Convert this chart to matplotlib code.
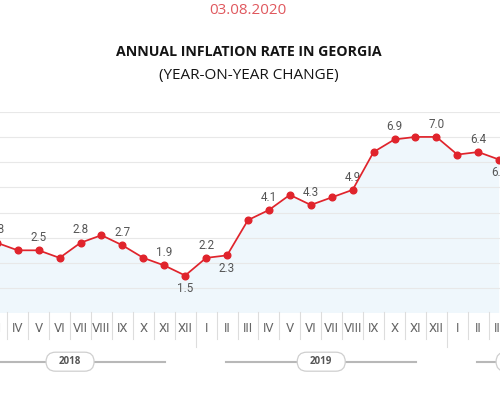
import matplotlib
matplotlib.use("Agg")
import matplotlib.pyplot as plt
from matplotlib.patches import FancyBboxPatch
from matplotlib.transforms import blended_transform_factory, IdentityTransform

# --- data (III 2018 ... III 2020, visible part of the chart) ---
month_labels = ["III", "IV", "V", "VI", "VII", "VIII", "IX", "X", "XI", "XII",
                "I", "II", "III", "IV", "V", "VI", "VII", "VIII", "IX", "X", "XI", "XII",
                "I", "II", "III"]
inflation = [2.8, 2.5, 2.5, 2.2, 2.8, 3.1, 2.7, 2.2, 1.9, 1.5,
             2.2, 2.3, 3.7, 4.1, 4.7, 4.3, 4.6, 4.9, 6.4, 6.9, 7.0, 7.0,
             6.3, 6.4, 6.1]
# where the value label goes: 1 above, -1 below, 0 none
label_side = [1, 0, 1, 0, 1, 0, 1, 0, 1, -1,
              1, -1, 0, 1, 0, 1, 0, 1, 0, 1, 0, 1,
              0, 1, -1]
years = ["2018", "2019", "2020"]
year_months = [12, 12, 7]
year_first = -2  # I 2018 sits two months before III 2018

date_text = "03.08.2020"
title = "ANNUAL INFLATION RATE IN GEORGIA"
subtitle = "(YEAR-ON-YEAR CHANGE)"

RED = "#e0242c"
GREY_TXT = "#555555"

fig = plt.figure(figsize=(5, 4), dpi=100)
ax = fig.add_axes([0, 0.2167, 1, 0.504])
ax.set_xlim(0.153, 24.04)
ax.set_ylim(0, 8)
for s in ax.spines.values():
    s.set_visible(False)
ax.set_xticks([])
ax.set_yticks([])

x = list(range(len(inflation)))
ax.fill_between(x, inflation, 0, color="#eff7fc", lw=0, zorder=1)
for g in range(1, 9):
    ax.axhline(g, color="#e8e8e8", lw=0.8, zorder=2)
ax.plot(x, inflation, color=RED, lw=1.25, marker="o", ms=4.8,
        clip_on=False, zorder=4)

for i, (v, side) in enumerate(zip(inflation, label_side)):
    if side == 0:
        continue
    ax.annotate(f"{v:.1f}", (i, v), xytext=(0, 9.2 * side), textcoords="offset points",
                ha="center", va="center", fontsize=8.4, color=GREY_TXT,
                family="Roboto", annotation_clip=False)

# month axis
trans = blended_transform_factory(ax.transData, fig.transFigure)
for i, m in enumerate(month_labels):
    ax.text(i, 0.1775, m, transform=trans, ha="center", va="center",
            fontsize=9.3, color="#666666",
            family=["Liberation Sans Narrow", "Roboto"], clip_on=False)

year_ends = []
start = year_first
for n in year_months:
    year_ends.append(start + n - 0.5)
    start += n
for k in range(-3, 26):
    sep = k + 0.5
    y_low = 0.133 if sep in year_ends else 0.1525
    ax.plot([sep, sep], [0.22, y_low], transform=trans, color="#dddddd",
            lw=0.8, clip_on=False, zorder=1)

# year capsules
start = year_first
for yr, n in zip(years, year_months):
    lo, hi = start - 0.5, start + n - 0.5
    ax.plot([lo + 1.45, hi - 1.45], [0.0957, 0.0957], transform=trans,
            color="#b8b8b8", lw=1.5, clip_on=False, zorder=1)
    cx = start + (n - 1) / 2
    px = ax.transData.transform((cx, 0))[0]
    py = 400 - 361.7
    box = FancyBboxPatch((px - 24, py - 9.5), 48, 19,
                         boxstyle="round,pad=0,rounding_size=9.5",
                         transform=IdentityTransform(), fc="white",
                         ec="#cfcfcf", lw=0.9, zorder=3)
    fig.patches.append(box)
    fig.text(px / 500, py / 400, yr, ha="center", va="center", fontsize=7,
             fontweight="bold", color=GREY_TXT, family="Open Sans", zorder=4)
    start += n

fig.text(0.496, 0.9725, date_text, ha="center", va="center", fontsize=11,
         color="#e0585e", family="Open Sans")
fig.text(0.497, 0.869, title, ha="center", va="center", fontsize=10.2,
         fontweight="bold", color="#141414", family="Open Sans")
fig.text(0.497, 0.81, subtitle, ha="center", va="center", fontsize=11,
         color="#141414", family="Open Sans")

fig.savefig("out.png", dpi=100)
